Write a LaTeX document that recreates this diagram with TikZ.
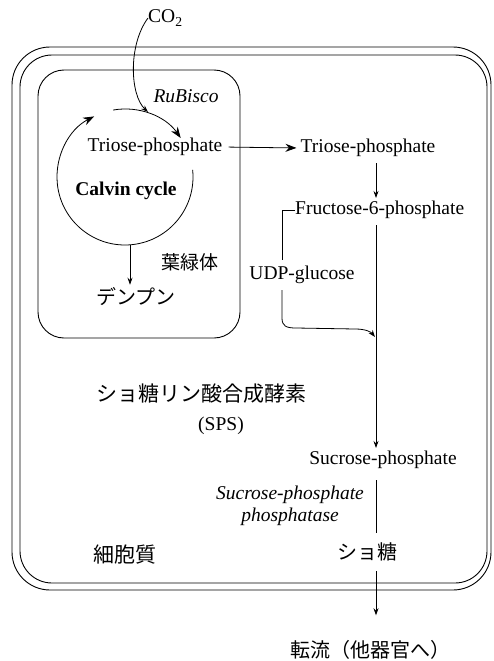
\documentclass[tikz,border=0pt]{standalone}
\usepackage{fontspec}
\setmainfont{Liberation Serif}
\newfontfamily\jp{Noto Sans CJK JP}
\usetikzlibrary{arrows.meta}
\begin{document}
\begin{tikzpicture}[x=1pt,y=-1pt,
  lbl/.style={inner sep=0pt, font=\fontsize{19.5}{22}\selectfont},
  ilbl/.style={inner sep=0pt, align=center, font=\itshape\fontsize{19.5}{22}\selectfont},
  blbl/.style={inner sep=0pt, font=\bfseries\fontsize{19.5}{22}\selectfont},
  jlbl/.style={inner sep=0pt, font=\jp\fontsize{20}{22}\selectfont},
  wall/.style={line width=0.9pt},
  flow/.style={line width=0.8pt,-{Stealth[length=7pt,width=5pt]}},
  bigflow/.style={line width=0.8pt,-{Stealth[length=11pt,width=8pt]}},
  plain/.style={line width=0.8pt}]
\useasboundingbox (0,0) rectangle (493,661);

% cell wall (double) and chloroplast
\draw[wall, rounded corners=38pt] (12,47) rectangle (491,590);
\draw[wall, rounded corners=32pt] (20,55) rectangle (487,583);
\draw[wall, rounded corners=26pt] (38,70) rectangle (240,338);

% helper coordinates
\coordinate (cc) at (125,177);
\coordinate (vx) at (376,0);
\coordinate (ux) at (282,0);
\coordinate (cb) at (130,245);

% labels
\node[lbl, anchor=west] (co2) at (148,18) {CO\textsubscript{2}};
\node[ilbl] (rub) at (186,96) {RuBisco};
\node[lbl] (tp1) at (155,147) {Triose-phosphate};
\node[blbl] (calvin) at (126,191) {Calvin cycle};
\node[jlbl, font=\jp\fontsize{19}{22}\selectfont] (chl) at (190,262) {葉緑体};
\node[jlbl] (dp) at (136,297) {デンプン};
\node[lbl] (tp2) at (368,148) {Triose-phosphate};
\node[lbl, anchor=west] (f6p) at (295,210) {Fructose-6-phosphate};
\node[lbl] (udp) at (302,275) {UDP-glucose};
\node[jlbl, font=\jp\fontsize{21}{22}\selectfont] (sps) at (201,394) {ショ糖リン酸合成酵素};
\node[lbl] (spsab) at (221,426) {(SPS)};
\node[lbl] (sp) at (383,460) {Sucrose-phosphate};
\node[ilbl] (spp) at (290,506) {Sucrose-phosphate\\phosphatase};
\node[jlbl] (sucr) at (367,552) {ショ糖};
\node[jlbl, font=\jp\fontsize{21}{22}\selectfont] (cyto) at (125,555) {細胞質};
\node[jlbl] (trans) at (370,650) {転流（他器官へ）};

% Calvin cycle
\draw[bigflow] (cc) ++(-6:68) arc[start angle=-6, end angle=243, radius=68];
\draw[bigflow] (cc) ++(-100:68) arc[start angle=-100, end angle=-35, radius=68];

% CO2 entry
\draw[flow] (co2.west) .. controls (128,45) and (130,95) .. (148,112);

% starch
\draw[flow, shorten >=3pt] (cb) -- (cb |- dp.north);

% export of triose-phosphate
\draw[bigflow, shorten <=6pt, shorten >=4pt] (tp1.east) -- (tp2.west);
\draw[flow, shorten <=6pt, shorten >=3pt] (tp2.south -| vx) -- (f6p.north -| vx);

% Fructose-6-phosphate -> UDP-glucose bracket
\draw[plain, shorten >=6pt] (f6p.west) -- (f6p.west -| ux) -- (udp.north -| ux);
\draw[flow, shorten <=6pt] (udp.south -| ux) -- (282,318)
  .. controls (282,326) and (286,328) .. (296,328) -- (355,329)
  .. controls (366,329) and (371,332) .. (375,337);

% main line to sucrose-phosphate
\draw[flow, shorten <=6pt, shorten >=3pt] (f6p.south -| vx) -- (sp.north -| vx);
\draw[plain, shorten <=11pt, shorten >=10pt] (sp.south -| vx) -- (sucr.north -| vx);
\draw[flow, shorten <=10pt, shorten >=25pt] (sucr.south -| vx) -- (trans.north -| vx);
\end{tikzpicture}
\end{document}
